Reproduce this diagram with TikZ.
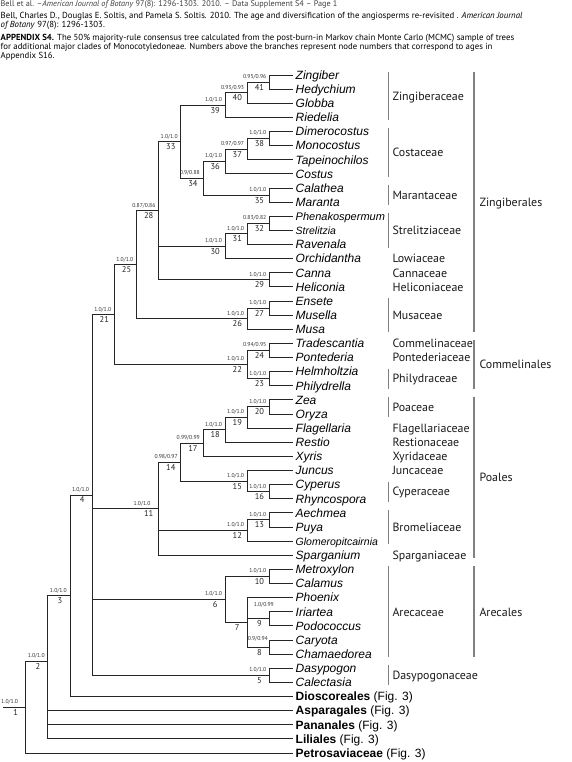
\documentclass[tikz,border=0pt]{standalone}
\usepackage{fontspec}
\setmainfont{PT Sans}
\newfontfamily\arialf{Liberation Sans}
\newlength\fitw
\newcommand\fitsize[3]{\settowidth\fitw{\fontsize{10pt}{12pt}\selectfont #3}\pgfmathsetmacro#1{10*#2/\fitw}}
\begin{document}%
\fitsize\hdsz{521.7}{Bell, Charles D., Douglas E. Soltis, and Pamela S. Soltis. 2010. The age and diversification of the angiosperms re-revisited . \textit{American Journal}}%
\fitsize\hdone{336.7}{Bell et al. --\textit{American Journal of Botany} 97(8): 1296-1303. 2010. -- Data Supplement S4 -- Page 1}%
\fitsize\famsz{80.4}{Commelinaceae}%
\begin{tikzpicture}[x=1pt,y=-1pt,
  tree/.style={line width=0.9pt,draw=black!85},
  brk/.style={line width=1.4pt,draw=black!50},
  taxon/.style={anchor=base west,inner sep=0pt,font=\arialf\itshape\fontsize{12pt}{14pt}\selectfont},
  outg/.style={anchor=base west,inner sep=0pt,font=\arialf\fontsize{12pt}{14pt}\selectfont},
  suplab/.style={anchor=base east,inner sep=0pt,text=black!80,font=\fontsize{5.7pt}{6pt}\selectfont},
  numlab/.style={anchor=base,inner sep=0pt,text=black!85,font=\fontsize{8.5pt}{9pt}\selectfont},
  famlab/.style={anchor=base west,inner sep=0pt,text=black!90,font=\fontsize{\famsz pt}{12pt}\selectfont},
  hdline/.style={anchor=base west,inner sep=0pt,font=\fontsize{\hdsz pt}{10pt}\selectfont}
]
\useasboundingbox (0,0) rectangle (572,762);
\fill[white] (0,0) rectangle (572,762);
% header
\node[anchor=base west,inner sep=0pt,text=black!75,font=\fontsize{\hdone pt}{10pt}\selectfont] (h1) at (0.5,7) {Bell et al. --\textit{American Journal of Botany} 97(8): 1296-1303. 2010. -- Data Supplement S4 -- Page 1};
\node[hdline] (h2) at (0.5,19) {Bell, Charles D., Douglas E. Soltis, and Pamela S. Soltis. 2010. The age and diversification of the angiosperms re-revisited . \textit{American Journal}};
\node[hdline] (h3) at (0.5,27.8) {\textit{of Botany} 97(8): 1296-1303.};
\node[hdline] (h4) at (0.5,40.5) {\textbf{APPENDIX S4.} The 50\% majority-rule consensus tree calculated from the post-burn-in Markov chain Monte Carlo (MCMC) sample of trees};
\node[hdline] (h5) at (0.5,49.8) {for additional major clades of Monocotyledoneae. Numbers above the branches represent node numbers that correspond to ages in};
\node[hdline] (h6) at (0.5,59) {Appendix S16.};
% leaves
\foreach \nm/\r in {Zingiber/0,Hedychium/1,Globba/2,Riedelia/3,Dimerocostus/4,Monocostus/5,Tapeinochilos/6,Costus/7,Calathea/8,Maranta/9,Phenakospermum/10,Strelitzia/11,Ravenala/12,Orchidantha/13,Canna/14,Heliconia/15,Ensete/16,Musella/17,Musa/18,Tradescantia/19,Pontederia/20,Helmholtzia/21,Philydrella/22,Zea/23,Oryza/24,Flagellaria/25,Restio/26,Xyris/27,Juncus/28,Cyperus/29,Rhyncospora/30,Aechmea/31,Puya/32,Glomeropitcairnia/33,Sparganium/34,Metroxylon/35,Calamus/36,Phoenix/37,Iriartea/38,Podococcus/39,Caryota/40,Chamaedorea/41,Dasypogon/42,Calectasia/43,Dioscoreales/44,Asparagales/45,Pananales/46,Liliales/47,Petrosaviaceae/48}
  {\coordinate (L\nm) at (293,{75+14.125*\r});}
\foreach \nm/\r in {Zingiber/0,Hedychium/1,Globba/2,Riedelia/3,Dimerocostus/4,Monocostus/5,Tapeinochilos/6,Costus/7,Calathea/8,Maranta/9,Ravenala/12,Orchidantha/13,Canna/14,Heliconia/15,Ensete/16,Musella/17,Musa/18,Tradescantia/19,Pontederia/20,Helmholtzia/21,Philydrella/22,Zea/23,Oryza/24,Flagellaria/25,Restio/26,Xyris/27,Juncus/28,Cyperus/29,Rhyncospora/30,Aechmea/31,Puya/32,Sparganium/34,Metroxylon/35,Calamus/36,Phoenix/37,Iriartea/38,Podococcus/39,Caryota/40,Chamaedorea/41,Dasypogon/42,Calectasia/43}
  {\node[taxon] (T\nm) at (295.5,{79.3+14.125*\r}) {\nm};}
\node[taxon,font=\arialf\itshape\fontsize{11pt}{12pt}\selectfont] (TPhenakospermum) at (295.5,{79+14.125*10}) {Phenakospermum};
\node[taxon,font=\arialf\itshape\fontsize{10.5pt}{12pt}\selectfont] (TStrelitzia) at (295.5,{79+14.125*11}) {Strelitzia};
\node[taxon,font=\arialf\itshape\fontsize{10.5pt}{12pt}\selectfont] (TGlomeropitcairnia) at (295.5,{79+14.125*33}) {Glomeropitcairnia};
\foreach \nm/\r in {Dioscoreales/44,Asparagales/45,Pananales/46,Liliales/47,Petrosaviaceae/48}
  {\node[outg] (T\nm) at (295.5,{79.3+14.125*\r}) {\textbf{\nm} (Fig. 3)};}
% internal nodes: name/level/y
\foreach \n/\l/\y in {41/11/82.06,40/10/92.66,39/9/105.02,38/11/138.56,37/10/149.16,36/9/161.52,35/11/195.06,34/8/178.29,33/7/141.65,32/11/223.31,31/10/233.9,30/9/246.26,29/11/279.81,28/6/210.73,27/11/308.06,26/10/318.66,25/5/264.7,24/11/350.44,23/11/378.69,22/10/364.56,21/4/314.63,20/11/406.94,19/10/417.53,18/9/429.89,17/8/443.13,16/11/491.69,15/10/481.09,14/7/462.11,13/11/519.94,12/10/530.53,11/6/508.68,10/11/576.44,9/11/618.81,8/11/647.06,7/10/622.34,6/9/599.39,5/11/675.31,4/3/494.97,3/2/595.73,2/1/661.3,1/0/707.3}
  {\coordinate (N\n) at ({25.7+22.16*\l},\y);
   \node[numlab] (M\n) at ({25.7+22.16*\l-10},{\y+8}) {\n};}
% support values: name/level/y/first/second
\foreach \n/\l/\y/\sa/\sb in {41/11/82.06/0.95/0.96,40/10/92.66/0.93/0.93,39/9/105.02/1.0/1.0,38/11/138.56/1.0/1.0,37/10/149.16/0.97/0.97,36/9/161.52/1.0/1.0,35/11/195.06/1.0/1.0,34/8/178.29/0.9/0.88,33/7/141.65/1.0/1.0,32/11/223.31/0.83/0.82,31/10/233.9/1.0/1.0,30/9/246.26/1.0/1.0,29/11/279.81/1.0/1.0,28/6/210.73/0.87/0.86,27/11/308.06/1.0/1.0,26/10/318.66/1.0/1.0,25/5/264.7/1.0/1.0,24/11/350.44/0.94/0.95,23/11/378.69/1.0/1.0,22/10/364.56/1.0/1.0,21/4/314.63/1.0/1.0,20/11/406.94/1.0/1.0,19/10/417.53/1.0/1.0,18/9/429.89/1.0/1.0,17/8/443.13/0.99/0.99,16/11/491.69/1.0/1.0,15/10/481.09/1.0/1.0,14/7/462.11/0.98/0.97,13/11/519.94/1.0/1.0,12/10/530.53/1.0/1.0,10/11/576.44/1.0/1.0,6/9/599.39/1.0/1.0,5/11/675.31/1.0/1.0,4/3/494.97/1.0/1.0,3/2/595.73/1.0/1.0,2/1/661.3/1.0/1.0}
  {\node[suplab] (S\n) at ({25.7+22.16*\l-3},{\y-3.6}) {\sa/\sb};}
\node[suplab] (S11) at (150.7,505.1) {1.0/1.0};
\node[suplab] (S9) at (274,606.8) {1.0/0.99};
\node[suplab] (S8) at (268,640.5) {0.9/0.94};
\node[suplab] (S1) at (18.3,703.7) {1.0/1.0};
% branches
\foreach \p/\c in {N41/LZingiber,N41/LHedychium,N40/N41,N40/LGlobba,N39/N40,N39/LRiedelia,
  N38/LDimerocostus,N38/LMonocostus,N37/N38,N37/LTapeinochilos,N36/N37,N36/LCostus,
  N35/LCalathea,N35/LMaranta,N34/N36,N34/N35,N33/N39,N33/N34,
  N32/LPhenakospermum,N32/LStrelitzia,N31/N32,N31/LRavenala,N30/N31,N30/LOrchidantha,
  N29/LCanna,N29/LHeliconia,N28/N33,N28/N30,N28/N29,
  N27/LEnsete,N27/LMusella,N26/N27,N26/LMusa,N25/N28,N25/N26,
  N24/LTradescantia,N24/LPontederia,N23/LHelmholtzia,N23/LPhilydrella,N22/N24,N22/N23,N21/N25,N21/N22,
  N20/LZea,N20/LOryza,N19/N20,N19/LFlagellaria,N18/N19,N18/LRestio,N17/N18,N17/LXyris,
  N16/LCyperus,N16/LRhyncospora,N15/LJuncus,N15/N16,N14/N17,N14/N15,
  N13/LAechmea,N13/LPuya,N12/N13,N12/LGlomeropitcairnia,N11/N14,N11/N12,N11/LSparganium,
  N10/LMetroxylon,N10/LCalamus,N9/LIriartea,N9/LPodococcus,N8/LCaryota,N8/LChamaedorea,
  N7/LPhoenix,N7/N9,N7/N8,N6/N10,N6/N7,N5/LDasypogon,N5/LCalectasia,
  N4/N21,N4/N11,N4/N6,N4/N5,N3/N4,N3/LDioscoreales,
  N2/N3,N2/LAsparagales,N2/LPananales,N2/LLiliales,N1/N2,N1/LPetrosaviaceae}
  {\draw[tree] (\p) |- (\c);}
\coordinate (root) at (3.3,707.3);
\draw[tree] (root) -- (N1);
% family brackets
\foreach \a/\b in {0/3,4/7,8/9,10/12,16/18,21/22,23/24,29/30,31/33,35/41,42/43}
  {\draw[brk] (388.7,{75+14.125*\a-3}) -- (388.7,{75+14.125*\b+3});}
% family labels
\foreach \a/\b/\t in {0/3/Zingiberaceae,4/7/Costaceae,8/9/Marantaceae,10/12/Strelitziaceae,13/13/Lowiaceae,14/14/Cannaceae,15/15/Heliconiaceae,16/18/Musaceae,19/19/Commelinaceae,20/20/Pontederiaceae,21/22/Philydraceae,23/24/Poaceae,25/25/Flagellariaceae,26/26/Restionaceae,27/27/Xyridaceae,28/28/Juncaceae,29/30/Cyperaceae,31/33/Bromeliaceae,34/34/Sparganiaceae,35/41/Arecaceae,42/43/Dasypogonaceae}
  {\node[famlab] (F\t) at (392.3,{75+14.125*(\a+\b)/2+4.3}) {\t};}
% order brackets and labels
\foreach \a/\b/\t in {0/18/Zingiberales,19/22/Commelinales,23/34/Poales,35/41/Arecales}
  {\draw[brk] (474,{75+14.125*\a-3}) -- (474,{75+14.125*\b+3});
   \node[famlab] (O\t) at (479.3,{75+14.125*(\a+\b)/2+4.3}) {\t};}
\end{tikzpicture}
\end{document}
